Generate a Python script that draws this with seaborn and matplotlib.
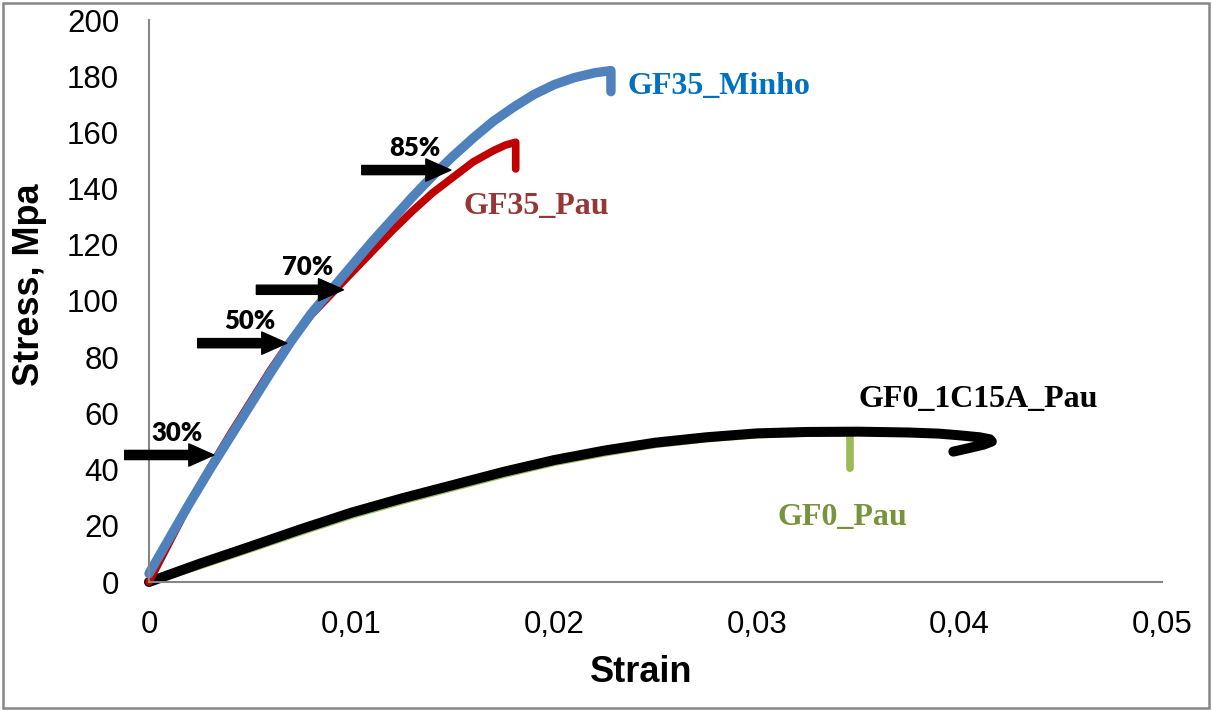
import numpy as np
import pandas as pd
import matplotlib
matplotlib.use("Agg")
import matplotlib.pyplot as plt
import seaborn as sns
from matplotlib.patches import Rectangle

# ---- data ----
strain_minho = [0, 0.001, 0.002, 0.003, 0.004, 0.005, 0.006, 0.007, 0.008, 0.009, 0.010,
                0.011, 0.012, 0.013, 0.014, 0.015, 0.016, 0.017, 0.018, 0.019, 0.020,
                0.021, 0.022, 0.0228, 0.0228]
stress_minho = [3, 15.5, 28, 40, 51.5, 63, 74.5, 85.5, 95.5, 104, 112.5,
                121, 129, 137, 144.5, 151.5, 158, 164, 169, 173.5, 177,
                179.5, 181.2, 182, 174.5]

strain_gf35pau = [0, 0.001, 0.002, 0.003, 0.004, 0.005, 0.006, 0.007, 0.008, 0.009, 0.010,
                  0.011, 0.012, 0.013, 0.014, 0.015, 0.016, 0.017, 0.0176, 0.0181, 0.0181]
stress_gf35pau = [0, 14, 28, 40.5, 52.5, 64, 75.5, 86, 95, 102.5, 110,
                  117.5, 125, 132, 138.5, 144, 149.5, 153.5, 155.5, 156.5, 147]

strain_gf0pau = [0, 0.0025, 0.005, 0.0075, 0.010, 0.0125, 0.015, 0.0175, 0.020, 0.0225,
                 0.025, 0.0275, 0.030, 0.0325, 0.0346, 0.0346]
stress_gf0pau = [0, 5.8, 11.8, 17.9, 23.8, 28.9, 33.6, 38.3, 42.6, 46.0,
                 49.0, 51.0, 52.4, 53.0, 53.1, 40.5]

strain_1c15a = [0, 0.0025, 0.005, 0.0075, 0.010, 0.0125, 0.015, 0.0175, 0.020, 0.0225,
                0.025, 0.0275, 0.030, 0.0325, 0.035, 0.0375, 0.039, 0.040, 0.041,
                0.0415, 0.0416, 0.0412, 0.0405, 0.0397]
stress_1c15a = [0, 6.5, 12.6, 18.8, 24.7, 29.8, 34.5, 39.2, 43.4, 46.8,
                49.6, 51.5, 52.9, 53.4, 53.5, 53.2, 52.8, 52.2, 51.5,
                50.8, 50.0, 48.9, 47.7, 46.4]

series_names = ["GF0_Pau", "GF0_1C15A_Pau", "GF35_Pau", "GF35_Minho"]
series_colors = ["#9BBB59", "#000000", "#C00000", "#4F81BD"]

# arrows at % of strength: label, tail strain, tip strain, stress
arrow_labels = ["30%", "50%", "70%", "85%"]
arrow_tail = [-0.0012, 0.0024, 0.0053, 0.0105]
arrow_tip = [0.0032, 0.0068, 0.0096, 0.0149]
arrow_stress = [45.2, 85, 104, 146.6]

x_ticks = [0, 0.01, 0.02, 0.03, 0.04, 0.05]
x_ticklabels = ["0", "0,01", "0,02", "0,03", "0,04", "0,05"]
y_ticks = [0, 20, 40, 60, 80, 100, 120, 140, 160, 180, 200]

sns.set_style("white")
plt.rcParams['font.family'] = ['Liberation Sans', 'DejaVu Sans']
plt.rcParams['text.color'] = 'black'

fig = plt.figure(figsize=(12.12, 7.11), dpi=100)
ax = fig.add_axes([149 / 1212, 1 - 582 / 711, 1013 / 1212, 562 / 711])

curves = [
    (strain_gf0pau, stress_gf0pau, 5.5),
    (strain_1c15a, stress_1c15a, 7.2),
    (strain_gf35pau, stress_gf35pau, 5.5),
    (strain_minho, stress_minho, 6.8),
]
for (xs, ys, lw), name, col in zip(curves, series_names, series_colors):
    df = pd.DataFrame({'Strain': xs, 'Stress': ys})
    sns.lineplot(data=df, x='Strain', y='Stress', sort=False, estimator=None,
                 color=col, lw=lw, ax=ax, solid_capstyle='round',
                 solid_joinstyle='round', clip_on=False)

# arrows
for lab, x0, x1, y in zip(arrow_labels, arrow_tail, arrow_tip, arrow_stress):
    ax.annotate('', xy=(x1, y), xytext=(x0, y),
                arrowprops=dict(arrowstyle='simple,head_length=0.9,head_width=0.8,tail_width=0.33',
                                mutation_scale=20, color='black', shrinkA=0, shrinkB=0),
                annotation_clip=False, zorder=5)
    ax.text((x0 + x1) / 2 + 0.0004, y + 8.0, lab, ha='center', va='center', color='black',
            fontsize=18.5, fontweight='heavy', family=['Lato', 'DejaVu Sans'])

# curve labels
label_font = dict(fontsize=23, fontweight='bold', family=['Liberation Serif', 'DejaVu Serif'],
                  ha='left', va='center')
ax.text(0.02364, 176.5, "GF35_Minho", color="#0070C0", **label_font)
ax.text(0.0155, 133.5, "GF35_Pau", color="#953735", **label_font)
ax.text(0.0350, 65, "GF0_1C15A_Pau", color="#000000", **label_font)
ax.text(0.0310, 23, "GF0_Pau", color="#77933C", **label_font)

ax.set_xlim(0, 0.05)
ax.set_ylim(0, 200)
ax.set_xticks(x_ticks)
ax.set_xticklabels(x_ticklabels)
ax.set_yticks(y_ticks)
ax.set_xlabel('')
ax.set_ylabel('')
for s in ['top', 'right']:
    ax.spines[s].set_visible(False)
for s in ['left', 'bottom']:
    ax.spines[s].set_color('#868686')
    ax.spines[s].set_linewidth(1.5)
ax.tick_params(axis='both', direction='out', length=6.5, width=1.5, color='#868686',
               labelsize=22.5, labelcolor='black')
ax.tick_params(axis='y', pad=15)
ax.tick_params(axis='x', pad=14)
ax.grid(False)

fig.text(641 / 1212, 1 - 672 / 711, "Strain", ha='center', va='center',
         fontsize=26, fontweight='bold', color='black')
fig.text(30 / 1212, 1 - 285 / 711, "Stress, Mpa", ha='center', va='center',
         rotation=90, fontsize=26, fontweight='bold', color='black')

# outer frame
fig.patches.append(Rectangle((3 / 1212, 3 / 711), 1206 / 1212, 705 / 711,
                             transform=fig.transFigure, fill=False,
                             edgecolor='#868686', lw=1.8))

fig.savefig('out.png', dpi=100)
